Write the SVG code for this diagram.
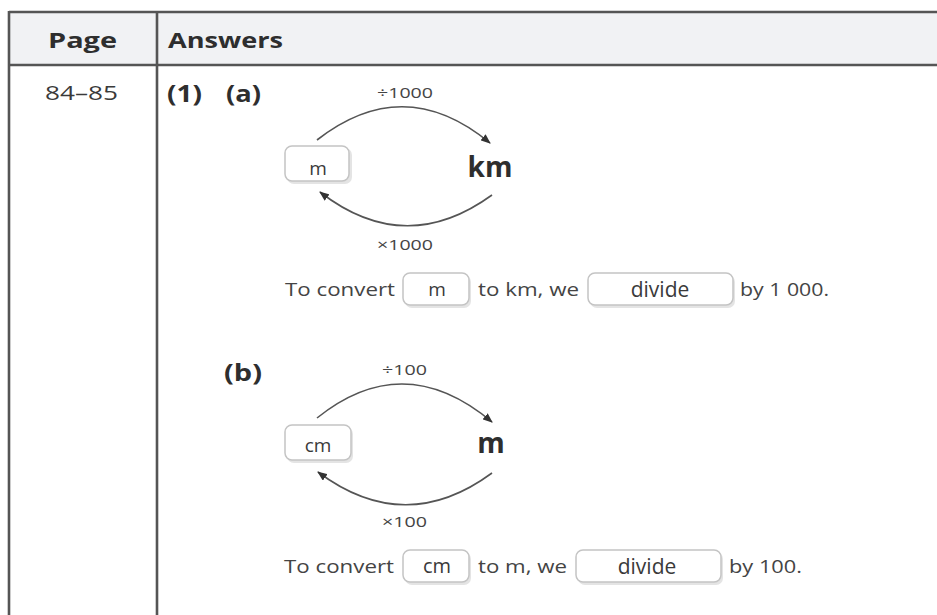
<svg xmlns="http://www.w3.org/2000/svg" width="937" height="615" viewBox="0 0 937 615">
  <defs>
    <marker id="ah" markerWidth="10" markerHeight="8" refX="9" refY="4" orient="auto" markerUnits="userSpaceOnUse">
      <path d="M0,0 L10,4 L0,8 Z" fill="#333"/>
    </marker>
    <style>
      .t { font-family: "Open Sans", "DejaVu Sans", sans-serif; fill: #3a3a3a; }
      .b { font-weight: bold; fill: #2e2e2e; }
      .hdr { font-size: 22px; }
      .lbl { font-size: 15px; fill: #444; }
      .sent { font-size: 18px; fill: #444; }
      .box { fill: #fff; stroke: #c4c4c4; stroke-width: 1.5; }
      .shadow { fill: #e4e4e4; }
      .arc { fill: none; stroke: #555; stroke-width: 1.6; }
      .grid { stroke: #555; stroke-width: 2.6; fill: none; }
    </style>
  </defs>
  <rect width="937" height="615" fill="#fff"/>

  <g id="table">
    <rect x="9" y="12" width="930" height="53" fill="#f1f2f4"/>
    <line class="grid" x1="9" y1="12" x2="937" y2="12"/>
    <line class="grid" x1="9" y1="65" x2="937" y2="65"/>
    <line class="grid" x1="9" y1="11" x2="9" y2="615"/>
    <line class="grid" x1="157" y1="11" x2="157" y2="615"/>
    <text class="t b hdr" x="48" y="48" textLength="69" lengthAdjust="spacingAndGlyphs">Page</text>
    <text class="t b hdr" x="168" y="48" textLength="115" lengthAdjust="spacingAndGlyphs">Answers</text>
    <text class="t" x="45" y="100" font-size="20" textLength="73" lengthAdjust="spacingAndGlyphs">84–85</text>
    <text class="t b" x="167" y="102" font-size="23" textLength="35" lengthAdjust="spacingAndGlyphs">(1)</text>
    <text class="t b" x="226" y="102" font-size="23" textLength="35" lengthAdjust="spacingAndGlyphs">(a)</text>
    <text class="t b" x="224" y="381" font-size="23" textLength="38" lengthAdjust="spacingAndGlyphs">(b)</text>
  </g>

  <g id="connectors">
    <path class="arc" d="M317,140 Q404,72 490,143" marker-end="url(#ah)"/>
    <path class="arc" d="M492,195 Q405,258 320,192" marker-end="url(#ah)"/>
    <path class="arc" d="M317,418 Q404,348 492,422" marker-end="url(#ah)"/>
    <path class="arc" d="M492,473 Q405,537 318,472" marker-end="url(#ah)"/>
    <text class="t lbl" x="377" y="98" textLength="56" lengthAdjust="spacingAndGlyphs">÷1000</text>
    <text class="t lbl" x="377" y="250" textLength="56" lengthAdjust="spacingAndGlyphs">×1000</text>
    <text class="t lbl" x="382" y="375" textLength="45" lengthAdjust="spacingAndGlyphs">÷100</text>
    <text class="t lbl" x="382" y="527" textLength="45" lengthAdjust="spacingAndGlyphs">×100</text>
  </g>

  <g id="node-a-m">
    <rect class="shadow" x="287" y="148" width="65" height="36" rx="7"/>
    <rect class="box" x="285" y="146" width="64" height="35" rx="7"/>
    <text class="t" x="318" y="175" font-size="19" text-anchor="middle">m</text>
  </g>
  <g id="node-a-km">
    <text class="t b" x="490" y="177" font-size="28" text-anchor="middle">km</text>
  </g>

  <g id="sentence-a">
    <text class="t sent" x="285" y="296" textLength="110" lengthAdjust="spacingAndGlyphs">To convert</text>
    <rect class="shadow" x="405" y="275" width="66" height="33" rx="7"/>
    <rect class="box" x="403" y="273" width="66" height="32" rx="7"/>
    <text class="t" x="437" y="296" font-size="19" text-anchor="middle">m</text>
    <text class="t sent" x="478" y="296" textLength="101" lengthAdjust="spacingAndGlyphs">to km, we</text>
    <rect class="shadow" x="590" y="275" width="145" height="33" rx="7"/>
    <rect class="box" x="588" y="273" width="145" height="32" rx="7"/>
    <text class="t" x="660" y="297" font-size="21" text-anchor="middle">divide</text>
    <text class="t sent" x="740" y="296" textLength="89" lengthAdjust="spacingAndGlyphs">by 1 000.</text>
  </g>

  <g id="node-b-cm">
    <rect class="shadow" x="287" y="427" width="66" height="36" rx="7"/>
    <rect class="box" x="285" y="425" width="66" height="35" rx="7"/>
    <text class="t" x="318" y="452" font-size="19" text-anchor="middle">cm</text>
  </g>
  <g id="node-b-m">
    <text class="t b" x="491" y="453" font-size="28" text-anchor="middle">m</text>
  </g>

  <g id="sentence-b">
    <text class="t sent" x="284" y="573" textLength="110" lengthAdjust="spacingAndGlyphs">To convert</text>
    <rect class="shadow" x="405" y="552" width="66" height="33" rx="7"/>
    <rect class="box" x="403" y="550" width="66" height="32" rx="7"/>
    <text class="t" x="437" y="573" font-size="20" text-anchor="middle">cm</text>
    <text class="t sent" x="478" y="573" textLength="89" lengthAdjust="spacingAndGlyphs">to m, we</text>
    <rect class="shadow" x="578" y="552" width="145" height="33" rx="7"/>
    <rect class="box" x="576" y="550" width="145" height="32" rx="7"/>
    <text class="t" x="647" y="574" font-size="21" text-anchor="middle">divide</text>
    <text class="t sent" x="729" y="573" textLength="73" lengthAdjust="spacingAndGlyphs">by 100.</text>
  </g>
</svg>
